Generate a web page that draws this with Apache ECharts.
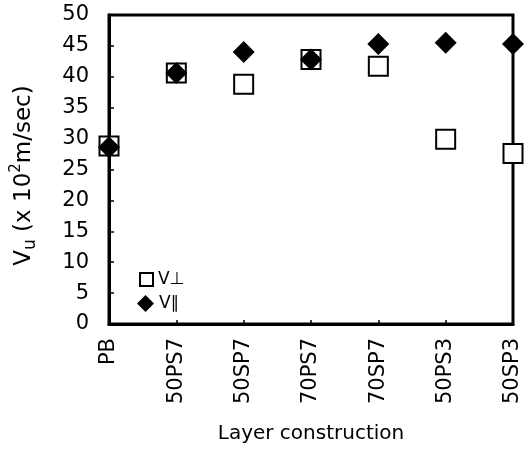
<!DOCTYPE html>
<html><head><meta charset="utf-8">
<script src="https://cdn.jsdelivr.net/npm/echarts@6/dist/echarts.min.js"></script>
<style>html,body{margin:0;padding:0;background:#fff}#c{width:529px;height:449px}</style>
</head><body><div id="c"></div>
<script>
const categories = ['PB','50PS7','50SP7','70PS7','70SP7','50PS3','50SP3'];
const vPerp = [28.8, 40.6, 38.8, 42.8, 41.7, 29.9, 27.6];
const vPar  = [28.6, 40.6, 44.0, 42.8, 45.3, 45.5, 45.3];
const yTicks = {min: 0, max: 50, interval: 5};
const seriesNames = ['V⊥', 'V∥'];

const font = 'DejaVu Sans';
const chart = echarts.init(document.getElementById('c'));
chart.setOption({
  animation: false,
  backgroundColor: '#fff',
  grid: {left: 109, right: 16, top: 15, bottom: 122, show: true, borderColor: '#000', borderWidth: 3},
  legend: [
    {left: 134, top: 266, itemWidth: 13, itemHeight: 13,
     textStyle: {fontFamily: font, fontSize: 17, color: '#000'}, data: [seriesNames[0]]},
    {left: 132, top: 290, itemWidth: 17, itemHeight: 17,
     textStyle: {fontFamily: font, fontSize: 17, color: '#000'}, data: [seriesNames[1]]}
  ],
  xAxis: {
    type: 'category', data: categories, boundaryGap: false,
    axisLine: {lineStyle: {color: '#000', width: 3}},
    axisTick: {inside: true, length: 4, lineStyle: {color: '#000', width: 1.5}},
    axisLabel: {rotate: 90, margin: 14, fontFamily: font, fontSize: 21, color: '#000'},
    name: 'Layer construction', nameLocation: 'middle', nameGap: 100,
    nameTextStyle: {fontFamily: font, fontSize: 20, color: '#000'}
  },
  yAxis: {
    type: 'value', min: yTicks.min, max: yTicks.max, interval: yTicks.interval,
    splitLine: {show: false},
    axisLine: {show: true, lineStyle: {color: '#000', width: 3}},
    axisTick: {show: true, inside: true, length: 5, lineStyle: {color: '#000', width: 1.5}},
    axisLabel: {margin: 20, fontFamily: font, fontSize: 21, color: '#000'},
    name: '{a|V}{sub|u}{a| (x 10}{sup|2}{a|m/sec)}', nameLocation: 'middle', nameGap: 70,
    nameTextStyle: {
      fontFamily: font, fontSize: 23, color: '#000', padding: [0, 12, 0, 0],
      rich: {
        a: {fontFamily: font, fontSize: 23, color: '#000', lineHeight: 30, verticalAlign: 'middle'},
        sub: {fontFamily: font, fontSize: 17, color: '#000', lineHeight: 30, verticalAlign: 'bottom'},
        sup: {fontFamily: font, fontSize: 15, color: '#000', lineHeight: 30, verticalAlign: 'top'}
      }
    }
  },
  series: [
    {name: seriesNames[0], type: 'scatter', data: vPerp, symbol: 'rect', symbolSize: 19, clip: false,
     itemStyle: {color: '#fff', borderColor: '#000', borderWidth: 2, opacity: 1}, z: 2},
    {name: seriesNames[1], type: 'scatter', data: vPar, symbol: 'diamond', symbolSize: 22, clip: false,
     itemStyle: {color: '#000', opacity: 1}, z: 3}
  ]
});
</script></body></html>
